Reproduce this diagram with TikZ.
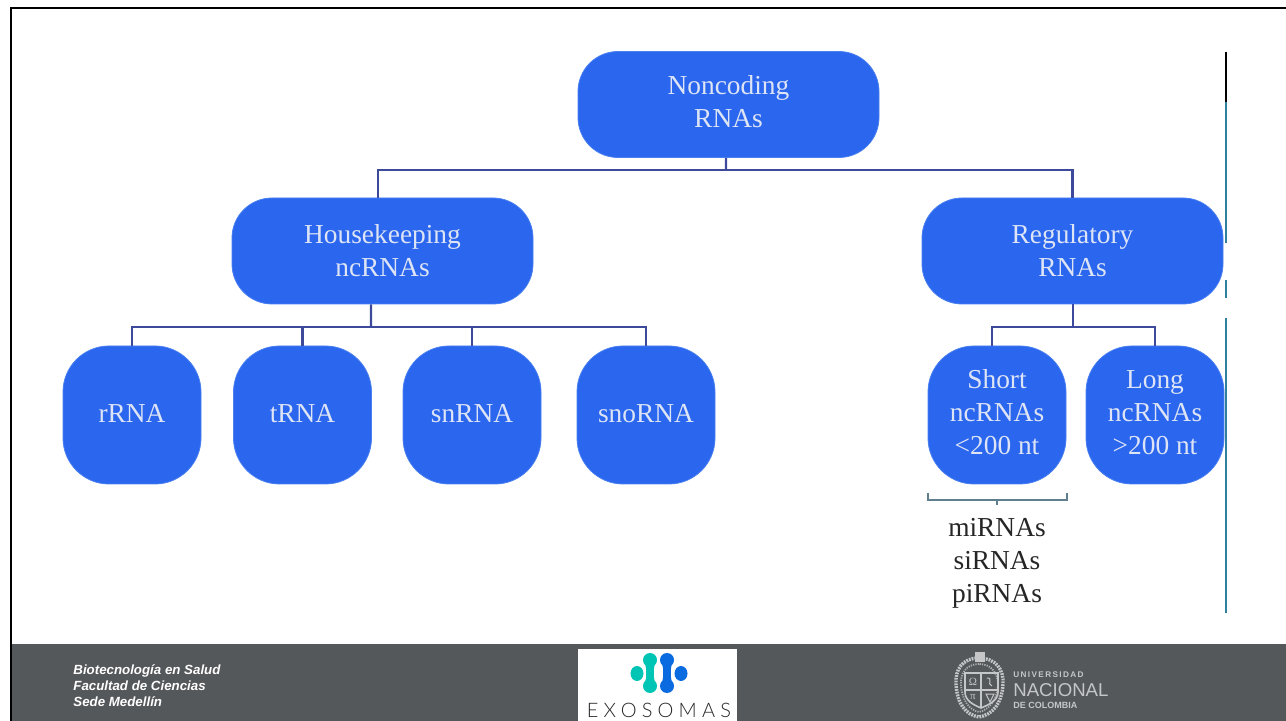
\documentclass[tikz,border=0pt]{standalone}
\usepackage{fontspec}
\setmainfont{Liberation Serif}
\setsansfont{Liberation Sans}
\newfontfamily\logofont[LetterSpace=26]{Lato Light}
\newcommand\tailgap[1]{\rule[-#1]{0pt}{#1}}
\definecolor{boxblue}{HTML}{2A66EE}
\definecolor{boxedge}{HTML}{4A80F0}
\definecolor{boxtext}{HTML}{DDE4F5}
\definecolor{wire}{HTML}{3D4A9C}
\definecolor{footer}{HTML}{55585B}
\definecolor{rulet}{HTML}{2F7F9F}
\definecolor{bracketc}{HTML}{5F7F8F}
\definecolor{teal}{HTML}{00C4B4}
\definecolor{logoblue}{HTML}{0A6BE0}
\definecolor{crest}{HTML}{C4C6C8}
\tikzset{
  x=.5pt,y=-.5pt,
  rna/.style={draw=boxedge,line width=.4pt,fill=boxblue,text=boxtext,inner sep=0pt,align=center,
    font=\fontsize{13.7}{16.5}\selectfont},
  wide/.style={rna,minimum width=150.5pt,minimum height=53pt,rounded corners=20pt},
  tile/.style={rna,minimum width=69pt,minimum height=69pt,rounded corners=23pt},
  wirel/.style={draw=wire,line width=1.1pt},
  foot/.style={text=white,inner sep=0pt,align=left,anchor=north west,
    font=\sffamily\bfseries\itshape\fontsize{6.65}{8}\selectfont},
  crestl/.style={draw=crest,line width=.5pt},
  unal/.style={text=crest,inner sep=0pt,anchor=west},
  glyph/.style={text=crest,inner sep=0pt,font=\fontsize{5.5}{6}\selectfont}
}
\begin{document}
\begin{tikzpicture}
\useasboundingbox (0,0) rectangle (1286,721);
\fill[white] (0,0) rectangle (1286,721);
\fill[footer] (12,644) rectangle (1286,721);
\fill[black] (9.5,7) rectangle (1286,9.5);
\fill[black] (9.5,7) rectangle (12,721);
% right rule
\coordinate (r0) at (1226,52); \coordinate (r1) at (1226,102);
\coordinate (r2) at (1226,243); \coordinate (r3) at (1226,280);
\coordinate (r4) at (1226,298); \coordinate (r5) at (1226,318);
\coordinate (r6) at (1226,613);
\draw[black,line width=1pt] (r0) -- (r1);
\draw[rulet,line width=1pt] (r1) -- (r2) (r3) -- (r4) (r5) -- (r6);
% boxes
\node[wide] (root) at (728.5,104.5) {Noncoding\\RNAs\tailgap{3pt}};
\node[wide] (hk) at (382.5,251) {Housekeeping\\ncRNAs};
\node[wide] (reg) at (1072.5,251) {Regulatory\\RNAs};
\node[tile] (r) at (132,415) {rRNA\tailgap{2pt}};
\node[tile] (t) at (302.5,415) {tRNA\tailgap{2pt}};
\node[tile] (sn) at (472,415) {snRNA\tailgap{2pt}};
\node[tile] (sno) at (646,415) {snoRNA\tailgap{2pt}};
\node[tile] (short) at (997,415) {Short\\ncRNAs\\<200 nt\tailgap{3pt}};
\node[tile] (long) at (1155,415) {Long\\ncRNAs\\>200 nt\tailgap{2pt}};
% connectors
\coordinate (b0) at (726,170);
\coordinate (b1) at (371,327);
\coordinate (b2) at (1073,327);
\draw[wirel] ([xshift=-1.2pt]root.south) -- (b0);
\draw[wirel] (b0) -| ([xshift=-2.2pt]hk.north);
\draw[wirel] (b0) -| (reg.north);
\draw[wirel] ([xshift=-5.7pt]hk.south) -- (b1);
\draw[wirel] (b1) -| (r.north);
\draw[wirel] (b1) -| (t.north);
\draw[wirel] (b1) -| (sn.north);
\draw[wirel] (b1) -| (sno.north);
\draw[wirel] ([xshift=.25pt]reg.south) -- (b2);
\draw[wirel] (b2) -| ([xshift=-2.5pt]short.north);
\draw[wirel] (b2) -| (long.north);
% bracket
\coordinate (k0) at (928,493); \coordinate (k1) at (928,500);
\coordinate (k2) at (1067,500); \coordinate (k3) at (1067,493);
\coordinate (k4) at (997,500); \coordinate (k5) at (997,505);
\draw[draw=bracketc,line width=.7pt] (k0) -- (k1) -- (k2) -- (k3) (k4) -- (k5);
\node[text=black!85,inner sep=0pt,align=center,font=\fontsize{13.7}{16.5}\selectfont] (subs) at (997,563) {miRNAs\\siRNAs\\piRNAs};
% footer text
\node[foot] (ft) at (73,664) {Biotecnología en Salud\\Facultad de Ciencias\\Sede Medellín};
% Exosomas logo
\fill[white] (578,649) rectangle (737,721);
\fill[teal] (637,673.5) ellipse (6.5 and 7.5);
\fill[teal] (650,660) circle (7);
\fill[teal] (650,686) circle (7);
\fill[teal] (644,660) .. controls (647,668) and (647,678) .. (644,686) -- (656,686) .. controls (653,678) and (653,668) .. (656,660) -- cycle;
\fill[logoblue] (681,673.5) ellipse (6.5 and 7.5);
\fill[logoblue] (667,660) circle (7);
\fill[logoblue] (667,686) circle (7);
\fill[logoblue] (661,660) .. controls (664,668) and (664,678) .. (661,686) -- (673,686) .. controls (670,678) and (670,668) .. (673,660) -- cycle;
\node[inner sep=0pt,text=black!85,font=\logofont\fontsize{10}{12}\selectfont] (exo) at (659,710) {EXOSOMAS};
% UNAL crest
\draw[crest,line width=1.7pt,dash pattern=on .9pt off .5pt] (979,658) .. controls (962,658) and (955,670) .. (956,684)
  .. controls (957,704) and (966,715) .. (979,717) .. controls (992,715) and (1002,704) .. (1003,684)
  .. controls (1004,670) and (996,658) .. (979,658) -- cycle;
\draw[crest!80!footer,line width=.9pt,dash pattern=on .6pt off .6pt] (979,664) .. controls (966,664) and (960,674) .. (961,685)
  .. controls (962,700) and (969,710) .. (979,712) .. controls (989,710) and (997,700) .. (998,685)
  .. controls (998,674) and (992,664) .. (979,664) -- cycle;
\draw[crestl,line width=.8pt] (965,673) -- (998,673) -- (998,692) .. controls (998,701) and (988,705) .. (981,708)
  .. controls (974,705) and (965,701) .. (965,692) -- cycle;
\draw[crestl,line width=.7pt] (981,673) -- (981,708) (965,690) -- (998,690);
\fill[crest] (975,652) rectangle (985,662);
\node[glyph] (g1) at (973,682) {Ω};
\draw[crestl] (987,678) .. controls (994,678) and (986,684) .. (992,686);
\node[glyph] (g3) at (973,697) {π};
\draw[crestl] (986,694) -- (994,694) -- (990,702) -- cycle;
\node[unal,font=\sffamily\bfseries\fontsize{4.1}{5}\selectfont] (u1) at (1013,674.5) {U\,N\,I\,V\,E\,R\,S\,I\,D\,A\,D};
\node[unal,font=\sffamily\fontsize{9.3}{10}\selectfont] (u2) at (1013,690) {NACIONAL};
\node[unal,font=\sffamily\bfseries\fontsize{4.5}{5}\selectfont] (u3) at (1013,705) {DE COLOMBIA};
\end{tikzpicture}
\end{document}
